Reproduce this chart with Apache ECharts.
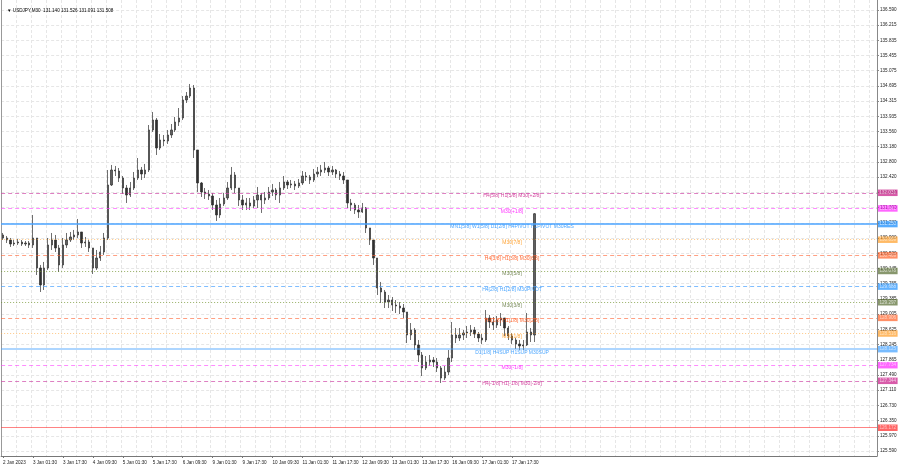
<!DOCTYPE html>
<html><head><meta charset="utf-8">
<script src="https://cdn.jsdelivr.net/npm/echarts@6/dist/echarts.min.js"></script>
<style>html,body{margin:0;padding:0;background:#fff}#c{width:900px;height:468px}</style>
</head><body><div id="c"></div>
<script>
const symbolName = 'USDJPY,M30';
const lastBarOHLC = ['131.140', '131.526', '131.091', '131.508'];
const xTickLabels = ['2 Jan 2023','3 Jan 01:30','3 Jan 17:30','4 Jan 09:30','5 Jan 01:30','5 Jan 17:30','6 Jan 09:30','9 Jan 01:30','9 Jan 17:30','10 Jan 09:30','11 Jan 01:30','11 Jan 17:30','12 Jan 09:30','13 Jan 01:30','13 Jan 17:30','16 Jan 09:30','17 Jan 01:30','17 Jan 17:30'];
const yTickValues = [136.590,136.215,135.835,135.455,135.075,134.695,134.315,133.935,133.560,133.180,132.800,132.420,132.040,131.660,131.280,130.900,130.520,130.145,129.765,129.385,129.005,128.625,128.245,127.865,127.490,127.110,126.730,126.350,125.970,125.590];
const opens = [
130.978,130.903,130.853,130.754,130.778,130.803,130.754,130.778,130.729,130.903,
130.155,129.731,130.155,130.729,130.853,130.654,130.230,130.729,130.853,130.928,
130.978,131.053,130.778,130.803,130.654,130.155,130.404,130.554,130.903,132.225,
132.599,132.574,132.399,132.150,131.975,132.150,132.399,132.599,132.499,132.599,
133.597,133.846,133.148,133.347,133.322,133.472,133.597,133.796,133.896,134.345,
134.444,134.644,133.098,132.275,132.050,132.000,131.950,131.726,131.477,131.751,
131.901,132.150,132.474,132.150,131.851,131.726,131.776,131.701,131.851,131.975,
131.851,131.901,132.050,132.100,131.975,132.150,132.300,132.225,132.250,132.200,
132.275,132.449,132.424,132.350,132.499,132.549,132.599,132.649,132.549,132.599,
132.499,132.449,132.350,131.776,131.726,131.602,131.552,131.651,131.153,130.853,
130.404,129.656,129.556,129.306,129.356,129.231,129.206,129.156,129.057,128.483,
128.608,128.234,127.984,127.660,127.810,127.859,127.810,127.660,127.410,127.560,
127.909,128.483,128.408,128.483,128.533,128.558,128.608,128.508,128.408,128.358,
128.907,128.807,128.732,128.857,128.907,128.658,128.458,128.358,128.259,128.209,
128.234,128.558,128.483];
const closes = [
130.903,130.853,130.754,130.778,130.803,130.754,130.778,130.729,130.903,130.155,
129.731,130.155,130.729,130.853,130.654,130.230,130.729,130.853,130.928,130.978,
131.053,130.778,130.803,130.654,130.155,130.404,130.554,130.903,132.225,132.599,
132.574,132.399,132.150,131.975,132.150,132.399,132.599,132.499,132.599,133.597,
133.846,133.148,133.347,133.322,133.472,133.597,133.796,133.896,134.345,134.444,
134.644,133.098,132.275,132.050,132.000,131.950,131.726,131.477,131.751,131.901,
132.150,132.474,132.150,131.851,131.726,131.776,131.701,131.851,131.975,131.851,
131.901,132.050,132.100,131.975,132.150,132.300,132.225,132.250,132.200,132.275,
132.449,132.424,132.350,132.499,132.549,132.599,132.649,132.549,132.599,132.499,
132.449,132.350,131.776,131.726,131.602,131.552,131.651,131.153,130.853,130.404,
129.656,129.556,129.306,129.356,129.231,129.206,129.156,129.057,128.483,128.608,
128.234,127.984,127.660,127.810,127.859,127.810,127.660,127.410,127.560,127.909,
128.483,128.408,128.483,128.533,128.558,128.608,128.508,128.408,128.358,128.907,
128.807,128.732,128.857,128.907,128.658,128.458,128.358,128.259,128.209,128.234,
128.558,128.483,131.508];
const highs = [
131.028,130.953,130.903,130.853,130.878,130.853,130.828,130.828,131.477,130.903,
130.230,130.305,130.903,131.028,130.978,130.729,130.903,131.028,131.053,131.103,
131.377,131.053,130.928,130.853,130.654,130.604,130.704,131.028,132.599,132.724,
132.699,132.649,132.449,132.225,132.300,132.549,132.898,132.674,132.749,133.721,
134.046,133.896,133.497,133.472,133.597,133.746,133.921,134.145,134.444,134.544,
134.744,134.719,133.098,132.300,132.150,132.100,132.025,131.851,131.901,132.025,
132.300,132.674,132.549,132.150,131.975,131.901,131.901,131.950,132.175,132.025,
132.050,132.175,132.250,132.150,132.300,132.449,132.350,132.350,132.325,132.374,
132.574,132.549,132.474,132.624,132.674,132.724,132.799,132.699,132.699,132.624,
132.574,132.549,132.350,131.876,131.776,131.726,131.776,131.676,131.153,130.853,
130.404,129.806,129.606,129.481,129.431,129.356,129.306,129.256,129.057,128.782,
128.658,128.358,128.059,127.959,127.984,127.934,127.909,127.710,127.710,128.109,
128.807,128.658,128.658,128.608,128.708,128.732,128.683,128.558,128.508,129.107,
128.982,128.932,128.957,129.032,128.907,128.708,128.533,128.408,128.358,128.358,
129.032,128.658,131.526];
const lows = [
130.853,130.778,130.679,130.704,130.729,130.704,130.704,130.654,130.654,129.980,
129.556,129.606,130.105,130.604,130.554,130.055,130.155,130.654,130.803,130.853,
130.903,130.654,130.679,130.554,130.005,130.105,130.329,130.479,130.853,132.200,
132.449,132.300,132.000,131.776,131.925,132.100,132.350,132.350,132.399,132.549,
133.547,132.973,133.098,133.198,133.248,133.397,133.547,133.697,133.846,134.270,
134.394,132.898,132.050,131.925,131.876,131.851,131.602,131.327,131.402,131.701,
131.851,132.100,132.025,131.701,131.602,131.602,131.602,131.651,131.651,131.527,
131.751,131.851,131.950,131.851,131.776,132.100,132.125,132.150,132.100,132.150,
132.225,132.325,132.250,132.300,132.424,132.449,132.524,132.449,132.474,132.399,
132.350,132.250,131.651,131.577,131.502,131.402,131.527,131.028,130.729,130.230,
129.481,129.281,129.156,129.156,129.082,129.032,129.007,128.907,128.283,128.358,
128.109,127.810,127.460,127.610,127.710,127.685,127.560,127.286,127.361,127.485,
127.810,128.283,128.333,128.358,128.408,128.458,128.408,128.308,128.259,128.308,
128.658,128.608,128.658,128.708,128.458,128.358,128.259,128.134,128.109,128.109,
128.209,128.308,128.308];
const levelValues = [132.031,131.641,131.508,131.250,130.859,130.469,130.078,129.688,129.297,128.906,128.516,128.125,127.734,127.344,126.172];
const levelTexts = ['H4[5/8] H1[5/8] M30[+2/8]','M30[+1/8]','','MN1[5/8] W1[5/8] D1[2/8] H4PIVOT H1PIVOT M30RES','M30[7/8]','H4[3/8] H1[3/8] M30[6/8]','M30[5/8]','H4[2/8] H1[2/8] M30PIVOT','M30[3/8]','H4[1/8] H1[1/8] M30[2/8]','M30[1/8]','D1[1/8] H4SUP H1SUP M30SUP','M30[-1/8]','H4[-1/8] H1[-1/8] M30[-2/8]',''];

// styles (kept apart from data)
const DASH=[4,3], DOT=[1,2];
const levelStyles = [
  {box:'#C71585', line:'#d04aa8', type:DASH, w:1, op:0.7, text:'#C71585'},
  {box:'#FF00FF', line:'#ff40ff', type:DASH, w:1, op:0.6, text:'#FF00FF'},
  {box:'#000000', line:'#000000', type:'solid', w:1, op:0, text:'#000'},
  {box:'#1E90FF', line:'#4aa3ff', type:'solid', w:2, op:0.75, text:'#1E90FF'},
  {box:'#FF8C00', line:'#ffa030', type:DOT, w:1, op:0.6, text:'#FF8C00'},
  {box:'#FF4500', line:'#ff6030', type:DASH, w:1, op:0.6, text:'#FF4500'},
  {box:'#556B2F', line:'#6B8E23', type:DOT, w:1, op:0.7, text:'#556B2F'},
  {box:'#1E90FF', line:'#4aa3ff', type:DASH, w:1, op:0.7, text:'#1E90FF'},
  {box:'#556B2F', line:'#6B8E23', type:DOT, w:1, op:0.7, text:'#556B2F'},
  {box:'#FF4500', line:'#ff6030', type:DASH, w:1, op:0.6, text:'#FF4500'},
  {box:'#FF8C00', line:'#ffa030', type:DOT, w:1, op:0.6, text:'#FF8C00'},
  {box:'#1E90FF', line:'#4aa3ff', type:'solid', w:1.5, op:0.6, text:'#1E90FF'},
  {box:'#FF00FF', line:'#ff40ff', type:DASH, w:1, op:0.6, text:'#FF00FF'},
  {box:'#C71585', line:'#d04aa8', type:DASH, w:1, op:0.7, text:'#C71585'},
  {box:'#FF0000', line:'#ff3030', type:'solid', w:1, op:0.6, text:'#FF0000'}
];
const FONT = 'Liberation Sans, Arial, sans-serif';
const N_SLOTS = 234;   // chart width incl. right shift, in 2-hour slots
const LABEL_EVERY = 8;
const TEXT_SLOT = 136;

const cats = [];
for (let k = 0; k < N_SLOTS; k++) {
  cats.push(k % LABEL_EVERY === 0 && k / LABEL_EVERY < xTickLabels.length ? xTickLabels[k / LABEL_EVERY] : 's' + k);
}
const showLbl = (idx) => idx % LABEL_EVERY === 0 && idx / LABEL_EVERY < xTickLabels.length;
const candles = opens.map((o, i) => [o, closes[i], lows[i], highs[i]]);
const yMin = 125.465, yMax = 136.839;

const chart = echarts.init(document.getElementById('c'), null, {renderer: 'canvas'});
chart.setOption({
  animation: false,
  backgroundColor: '#ffffff',
  textStyle: {fontFamily: FONT},
  title: {
    text: '\u25BC ' + symbolName + '  ' + lastBarOHLC.join(' '),
    left: 2, top: 3,
    textStyle: {fontSize: 4.6, fontWeight: 'normal', color: '#000', fontFamily: FONT}
  },
  grid: {left: 0, right: 23, top: 0, bottom: 12, containLabel: false},
  xAxis: {
    type: 'category', data: cats, boundaryGap: true,
    axisLine: {show: true, lineStyle: {color: '#777', width: 1}},
    axisTick: {show: true, interval: showLbl, alignWithLabel: true, length: 2, lineStyle: {color: '#777'}},
    axisLabel: {show: true, interval: showLbl, showMinLabel: true, hideOverlap: false, align: 'left', margin: 4, fontSize: 4.6, color: '#222', fontFamily: FONT},
    splitLine: {show: true, interval: (idx) => idx % 4 === 0, lineStyle: {color: '#e6e6e6', type: [3, 2], width: 1}}
  },
  yAxis: [{
    type: 'value', position: 'right', min: yMin, max: yMax, scale: true,
    axisLine: {show: true, lineStyle: {color: '#888', width: 1}},
    axisTick: {show: true, length: 2, customValues: yTickValues, lineStyle: {color: '#888'}},
    axisLabel: {show: true, customValues: yTickValues, margin: 3, fontSize: 4.6, color: '#222', fontFamily: FONT,
      formatter: (v) => v.toFixed(3)},
    splitLine: {show: true, lineStyle: {color: '#e6e6e6', type: [3, 2], width: 1}}
  }, {
    type: 'value', position: 'left', min: yMin, max: yMax,
    axisLine: {show: true, lineStyle: {color: '#999', width: 1}},
    axisTick: {show: false}, axisLabel: {show: false}, splitLine: {show: false}
  }],
  series: [{
    type: 'candlestick', data: candles, barWidth: 1.8,
    itemStyle: {color: '#606060', color0: '#303030', borderColor: '#303030', borderColor0: '#303030', borderWidth: 0.7},
    markLine: {
      silent: true, symbol: ['none', 'none'], animation: false,
      data: levelValues.map((v, i) => ({
        yAxis: v,
        lineStyle: {color: levelStyles[i].line, type: levelStyles[i].type, width: levelStyles[i].w, opacity: levelStyles[i].op},
        label: {show: true, position: 'end', distance: 1, formatter: v.toFixed(3), color: '#fff',
          backgroundColor: levelStyles[i].box, padding: [1, 1.5, 0.5, 1.5], fontSize: 4.6, fontFamily: FONT}
      }))
    }
  }, {
    type: 'scatter', silent: true, symbolSize: 1,
    itemStyle: {color: 'transparent'},
    data: levelValues.map((v, i) => ({value: [TEXT_SLOT, v], name: levelTexts[i],
      label: {color: levelStyles[i].text}})).filter(d => d.name !== ''),
    label: {show: true, position: 'inside', offset: [0, 3], formatter: '{b}', fontSize: 5, fontFamily: FONT}
  }]
});
</script>
</body></html>
